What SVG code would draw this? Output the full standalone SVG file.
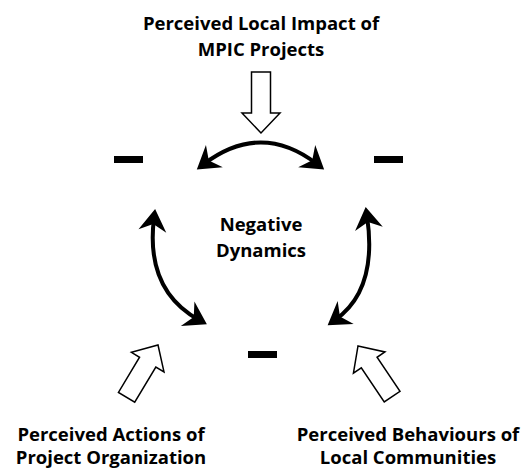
<svg xmlns="http://www.w3.org/2000/svg" width="526" height="470" viewBox="0 0 526 470">
<defs>
<style>
.t{font-family:"Open Sans","Liberation Sans",sans-serif;font-weight:bold;font-size:18.5px;fill:#000;text-anchor:middle}
.arc{fill:none;stroke:#000;stroke-width:4}
.hol{fill:#fff;stroke:#000;stroke-width:1.5;stroke-linejoin:miter}
.dash{fill:#000}
</style>
<marker id="ah" markerUnits="userSpaceOnUse" viewBox="-15 -15 26 30" refX="0" refY="0" markerWidth="26" markerHeight="30" orient="auto-start-reverse">
<path d="M9,0 L-13,-14 L-6,0 L-13,14 Z" fill="#000"/>
</marker>
<polygon id="hollow" points="0,0 19,20 9.5,20 9.5,61 -9.5,61 -9.5,20 -19,20"/>
</defs>
<rect width="526" height="470" fill="#fff"/>
<g id="label-top">
<text class="t" x="261" y="30">Perceived Local Impact of</text>
<text class="t" x="261" y="56">MPIC Projects</text>
</g>
<g id="label-center">
<text class="t" x="261" y="231">Negative</text>
<text class="t" x="261" y="257">Dynamics</text>
</g>
<g id="label-left">
<text class="t" x="111" y="441">Perceived Actions of</text>
<text class="t" x="111" y="464">Project Organization</text>
</g>
<g id="label-right">
<text class="t" x="408" y="441">Perceived Behaviours of</text>
<text class="t" x="408" y="464">Local Communities</text>
</g>
<g id="sign-left"><rect class="dash" x="114" y="156" width="29" height="7"/></g>
<g id="sign-right"><rect class="dash" x="374" y="156" width="29" height="7"/></g>
<g id="sign-bottom"><rect class="dash" x="248" y="351" width="29" height="7"/></g>
<g id="connectors">
<path class="arc" d="M204,164 Q261,121 317,164" marker-start="url(#ah)" marker-end="url(#ah)"/>
<path class="arc" d="M154,218 Q145,290 199,320" marker-start="url(#ah)" marker-end="url(#ah)"/>
<path class="arc" d="M367,216 Q378,290 335,320" marker-start="url(#ah)" marker-end="url(#ah)"/>
<use href="#hollow" class="hol" transform="translate(261,133) rotate(180)"/>
<use href="#hollow" class="hol" transform="translate(158,345) rotate(31)"/>
<use href="#hollow" class="hol" transform="translate(358,346) rotate(-34)"/>
</g>
</svg>
